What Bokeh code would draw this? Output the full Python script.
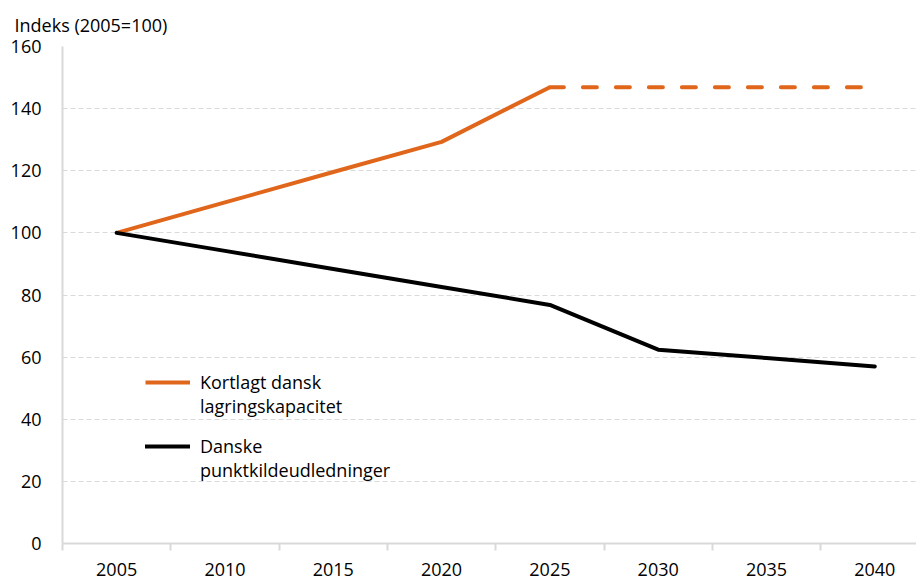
import numpy as np
from bokeh.plotting import figure
from bokeh.models import Range1d, FixedTicker, Legend, LegendItem
from bokeh.embed import file_html
from bokeh.resources import INLINE

years = ["2005", "2010", "2015", "2020", "2025", "2030", "2035", "2040"]
kortlagt = [100, 109.8, 119.6, 129.3, 146.9, np.nan, np.nan, np.nan]
kortlagt_fremskrevet = [np.nan, np.nan, np.nan, np.nan, 146.9, 146.9, 146.9, 146.9]
punktkilde = [100, 94.2, 88.4, 82.6, 76.8, 62.4, 59.7, 57.0]
y_ticks = [0, 20, 40, 60, 80, 100, 120, 140, 160]

ORANGE = "#E0661B"
GRID = "#d9d9d9"
FONT = "Open Sans"
FS = "18px"

x = list(range(len(years)))

p = figure(width=916, height=580, x_range=Range1d(-0.5, 7.385), y_range=Range1d(0, 160),
           output_backend="svg", toolbar_location=None, title="Indeks (2005=100)",
           min_border_left=62, min_border_right=0, min_border_top=46, min_border_bottom=37)
p.outline_line_color = None
p.background_fill_color = "white"
p.border_fill_color = "white"

p.title.align = "left"
p.title.offset = -48
p.title.standoff = 20
p.title.text_font = FONT
p.title.text_font_size = FS
p.title.text_font_style = "normal"
p.title.text_color = "black"

r_orange = p.line(x, kortlagt, line_color=ORANGE, line_width=4, line_join="round")
p.line(x, kortlagt_fremskrevet, line_color=ORANGE, line_width=4, line_dash="14 19", line_cap="round")
r_black = p.line(x, punktkilde, line_color="black", line_width=4, line_join="round", line_cap="round")
r_blank = p.line(x=[], y=[], line_alpha=0)

# axes
xa = p.xaxis[0]
xa.ticker = FixedTicker(ticks=x, minor_ticks=[i - 0.5 for i in range(len(years) + 1)])
xa.major_label_overrides = {i: y for i, y in enumerate(years)}
xa.major_tick_line_color = None
xa.major_tick_out = 0
xa.major_tick_in = 0
xa.minor_tick_line_color = GRID
xa.minor_tick_line_width = 2
xa.minor_tick_out = 7
xa.minor_tick_in = 0
xa.axis_line_color = GRID
xa.axis_line_width = 2
xa.major_label_standoff = 12
xa.major_label_text_font = FONT
xa.major_label_text_font_size = FS
xa.major_label_text_color = "black"

ya = p.yaxis[0]
ya.ticker = FixedTicker(ticks=y_ticks)
ya.major_tick_line_color = None
ya.major_tick_out = 0
ya.major_tick_in = 0
ya.minor_tick_line_color = None
ya.axis_line_color = GRID
ya.axis_line_width = 2
ya.major_label_standoff = 21
ya.major_label_text_font = FONT
ya.major_label_text_font_size = FS
ya.major_label_text_color = "black"

p.xgrid.grid_line_color = None
p.ygrid.grid_line_color = GRID
p.ygrid.grid_line_dash = "5 3"
p.ygrid.grid_line_width = 1


def make_legend(items, loc):
    lg = Legend(items=items, location=loc)
    lg.label_text_font = FONT
    lg.label_text_font_size = FS
    lg.label_text_color = "black"
    lg.glyph_width = 45
    lg.label_standoff = 10
    lg.spacing = 0
    lg.padding = 0
    lg.margin = 0
    lg.border_line_color = None
    lg.background_fill_alpha = 0
    return lg


p.add_layout(make_legend([
    LegendItem(label="Kortlagt dansk", renderers=[r_orange]),
    LegendItem(label="lagringskapacitet", renderers=[r_blank]),
], (83, 125)))
p.add_layout(make_legend([
    LegendItem(label="Danske", renderers=[r_black]),
    LegendItem(label="punktkildeudledninger", renderers=[r_blank]),
], (83, 61)))

open("out.html", "w").write(file_html(p, INLINE))
